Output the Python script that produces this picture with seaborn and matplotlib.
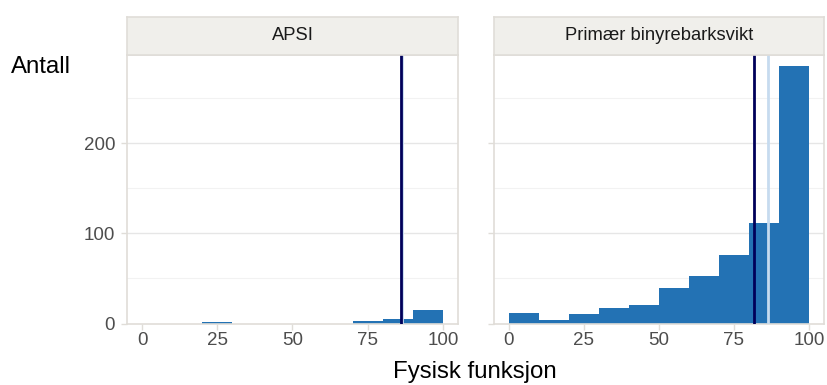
import numpy as np
import pandas as pd
import matplotlib
matplotlib.use("Agg")
import matplotlib.pyplot as plt
import seaborn as sns

sns.set_theme(style="white")
plt.rcParams['font.family'] = ['Liberation Sans', 'DejaVu Sans']

# ---- data ----
groups = ["APSI", "Primær binyrebarksvikt"]
bin_edges = [0, 10, 20, 30, 40, 50, 60, 70, 80, 90, 100]
bin_mids = [5, 15, 25, 35, 45, 55, 65, 75, 85, 95]
counts_apsi = [0, 0, 2, 0, 0, 0, 0, 3, 5, 15]
counts_pbs = [12, 4, 10, 17, 20, 39, 53, 76, 111, 286]
group_means = [86.0, 81.6]
overall_ref = 86.5

bar_color = "#2372b4"
navy = "#00005a"
light = "#c6dbef"
border = "#e0ddd8"
strip_fill = "#f0efeb"
tick_col = "#4d4d4d"

df = pd.DataFrame({
    "gruppe": np.repeat(groups, len(bin_mids)),
    "verdi": bin_mids * 2,
    "antall": counts_apsi + counts_pbs,
})

W, H = 827, 385
fig = plt.figure(figsize=(W / 100, H / 100), dpi=100)

panels = [(127, 458), (494, 824)]
top_px, bot_px, strip_top = 55, 323.5, 17

for i, (g, (x0, x1)) in enumerate(zip(groups, panels)):
    ax = fig.add_axes([x0 / W, 1 - bot_px / H, (x1 - x0) / W, (bot_px - top_px) / H])
    sub = df[df["gruppe"] == g]
    # grid
    for yv in [50, 150, 250]:
        ax.axhline(yv, color="#f2f2f2", lw=0.8, zorder=0)
    for yv in [100, 200]:
        ax.axhline(yv, color="#e6e6e6", lw=1.0, zorder=0)
    sns.histplot(data=sub, x="verdi", weights="antall", bins=bin_edges, ax=ax,
                 color=bar_color, alpha=1, edgecolor="none", linewidth=0, zorder=2)
    ax.axvline(overall_ref, color=light, lw=2.0, zorder=3)
    ax.axvline(group_means[i], color=navy, lw=2.0, zorder=4)
    ax.set_xlim(-5, 105)
    ax.set_ylim(0, 298)
    ax.set_xticks([0, 25, 50, 75, 100])
    ax.set_yticks([0, 100, 200])
    ax.set_xlabel("")
    ax.set_ylabel("")
    for s in ax.spines.values():
        s.set_color(border)
        s.set_linewidth(1.2)
    ax.tick_params(axis="both", colors=border, labelcolor=tick_col, labelsize=13.5,
                   length=4, width=1, bottom=True, left=True)
    ax.tick_params(axis="x", pad=2)
    ax.tick_params(axis="y", pad=4.5)
    if i == 1:
        ax.tick_params(axis="y", labelleft=False)
    # strip
    sax = fig.add_axes([x0 / W, 1 - top_px / H, (x1 - x0) / W, (top_px - strip_top) / H])
    sax.set_facecolor(strip_fill)
    sax.set_xticks([])
    sax.set_yticks([])
    for s in sax.spines.values():
        s.set_color(border)
        s.set_linewidth(1.2)
    sax.text(0.5, 0.5, g, ha="center", va="center", fontsize=13.2, color="#1a1a1a",
             transform=sax.transAxes)

fig.text(475 / W, 1 - 372 / H, "Fysisk funksjon", ha="center", va="center", fontsize=17.3, color="black")
fig.text(11 / W, 1 - 67 / H, "Antall", ha="left", va="center", fontsize=17.3, color="black")

fig.savefig("out.png", dpi=100)
